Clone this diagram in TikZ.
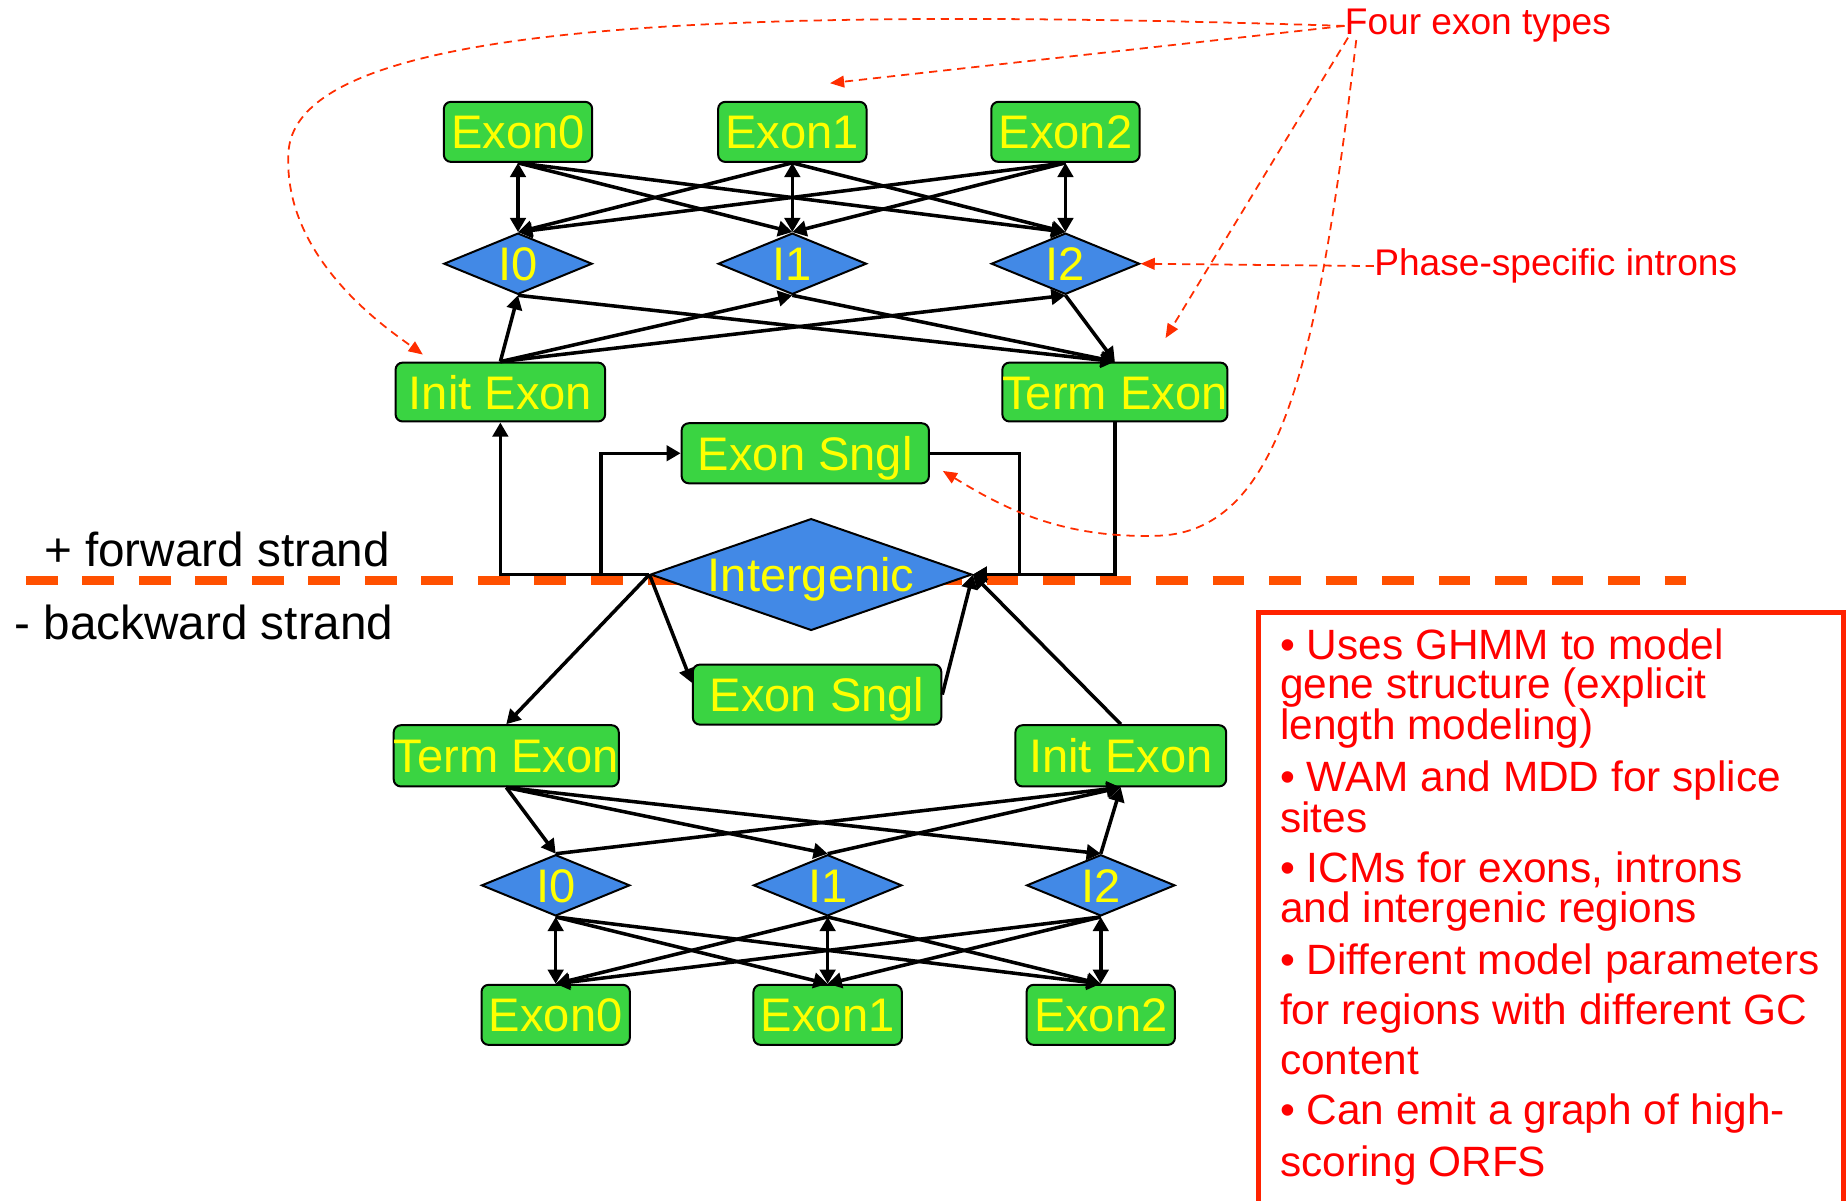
\documentclass[tikz,border=0pt]{standalone}
\usepackage{fontspec}
\setmainfont{Liberation Sans}
\usetikzlibrary{shapes.geometric,arrows.meta,calc}

\definecolor{exongreen}{RGB}{58,212,66}
\definecolor{intronblue}{RGB}{66,137,230}
\definecolor{labelyellow}{RGB}{255,255,0}
\definecolor{strandorange}{RGB}{255,80,0}
\definecolor{noteRed}{RGB}{255,0,0}
\definecolor{pointerRed}{RGB}{255,45,0}
\definecolor{frameRed}{RGB}{255,34,0}

\tikzset{
exonbox/.style={draw=black,line width=1.7pt,fill=exongreen,rounded corners=6pt,text=labelyellow,inner sep=0pt,text height=29pt,text depth=0pt,font=\fontsize{40}{40}\selectfont},
intronbox/.style={diamond,draw=black,line width=1.7pt,fill=intronblue,text=labelyellow,inner sep=0pt,aspect=2.4,text height=29pt,text depth=0pt,minimum width=126pt,minimum height=52pt,font=\fontsize{40}{40}\selectfont},
trans/.style={line width=3pt,-{Triangle[length=12pt,width=13pt]}},
bitrans/.style={line width=3pt,{Triangle[length=12pt,width=13pt]}-{Triangle[length=12pt,width=13pt]}},
pointer/.style={pointerRed,line width=1.5pt,dash pattern=on 7pt off 5pt,-{Triangle[length=12pt,width=10pt]}},
notetext/.style={text=noteRed,inner sep=0pt,font=\fontsize{31.5}{31.5}\selectfont},
bullettext/.style={anchor=north west,align=left,text=noteRed,inner sep=0pt}
}
\tikzset{every picture/.style={line width=0.75pt}}

\begin{document}
\begin{tikzpicture}[x=1pt,y=1pt,yscale=-1,xscale=1]
\useasboundingbox (0,0) rectangle (1568,1020);

%Strand divider
\draw [strandorange,line width=7pt,dash pattern=on 27pt off 21pt] (22,493) -- (1432,493);

% Forward strand states
\node [exonbox,minimum width=126pt,minimum height=51pt] (exU0) at (440,112) {Exon0};
\node [exonbox,minimum width=126pt,minimum height=51pt] (exU1) at (673,112) {Exon1};
\node [exonbox,minimum width=126pt,minimum height=51pt] (exU2) at (905,112) {Exon2};
\node [intronbox] (inU0) at (440,224) {I0};
\node [intronbox] (inU1) at (673,224) {I1};
\node [intronbox] (inU2) at (905,224) {I2};
\node [exonbox,minimum width=178pt,minimum height=50pt] (initU) at (425,333) {Init Exon};
\node [exonbox,minimum width=190pt,minimum height=50pt] (termU) at (947,333) {Term Exon};
\node [exonbox,minimum width=210pt,minimum height=51pt] (snglU) at (684,385) {Exon Sngl};

% Intergenic
\node [intronbox,aspect=2.87,minimum width=273pt,minimum height=95pt] (intergenic) at (689,488) {Intergenic};

% Backward strand states
\node [exonbox,minimum width=211pt,minimum height=51pt] (snglD) at (694,590) {Exon Sngl};
\node [exonbox,minimum width=190pt,minimum height=52pt] (termD) at (430,642) {Term Exon};
\node [exonbox,minimum width=179pt,minimum height=52pt] (initD) at (952,642) {Init Exon};
\node [intronbox] (inD0) at (472,752) {I0};
\node [intronbox] (inD1) at (703,752) {I1};
\node [intronbox] (inD2) at (935,752) {I2};
\node [exonbox,minimum width=126pt,minimum height=51pt] (exD0) at (472,862) {Exon0};
\node [exonbox,minimum width=126pt,minimum height=51pt] (exD1) at (703,862) {Exon1};
\node [exonbox,minimum width=126pt,minimum height=51pt] (exD2) at (935,862) {Exon2};

% Forward strand transitions
\draw [bitrans] (exU0.south) -- (inU0.north);
\draw [bitrans] (exU1.south) -- (inU1.north);
\draw [bitrans] (exU2.south) -- (inU2.north);
\draw [trans] (exU0.south) -- (inU1.north);
\draw [trans] (exU0.south) -- (inU2.north);
\draw [trans] (exU1.south) -- (inU0.north);
\draw [trans] (exU1.south) -- (inU2.north);
\draw [trans] (exU2.south) -- (inU0.north);
\draw [trans] (exU2.south) -- (inU1.north);
\draw [trans] (initU.north) -- (inU0.south);
\draw [trans] (initU.north) -- (inU1.south);
\draw [trans] (initU.north) -- (inU2.south);
\draw [trans] (inU0.south) -- (termU.north);
\draw [trans] (inU1.south) -- (termU.north);
\draw [trans] (inU2.south) -- (termU.north);
\draw [trans] (intergenic.west) -| (initU.south);
\draw [trans] (intergenic.west) -- ++(-41,0) |- (snglU.west);
\draw [trans] (snglU.east) -- ++(76,0) |- (intergenic.east);
\draw [trans] (termU.south) |- (intergenic.east);

% Backward strand transitions
\draw [trans] (intergenic.west) -- (termD.north);
\draw [trans] (intergenic.west) -- ($(snglD.west)+(0,-10)$);
\draw [trans] (snglD.east) -- (intergenic.east);
\draw [trans] (initD.north) -- (intergenic.east);
\draw [trans] (termD.south) -- (inD0.north);
\draw [trans] (termD.south) -- (inD1.north);
\draw [trans] (termD.south) -- (inD2.north);
\draw [trans] (inD0.north) -- (initD.south);
\draw [trans] (inD1.north) -- (initD.south);
\draw [trans] (inD2.north) -- (initD.south);
\draw [bitrans] (inD0.south) -- (exD0.north);
\draw [bitrans] (inD1.south) -- (exD1.north);
\draw [bitrans] (inD2.south) -- (exD2.north);
\draw [trans] (inD0.south) -- (exD1.north);
\draw [trans] (inD0.south) -- (exD2.north);
\draw [trans] (inD1.south) -- (exD0.north);
\draw [trans] (inD1.south) -- (exD2.north);
\draw [trans] (inD2.south) -- (exD0.north);
\draw [trans] (inD2.south) -- (exD1.north);

% Text Node
\node [anchor=west,inner sep=0pt,font=\fontsize{40.5}{40.5}\selectfont] (fwd) at (37,467) {+ forward strand};
% Text Node
\node [anchor=west,inner sep=0pt,font=\fontsize{40.5}{40.5}\selectfont] (bwd) at (12,529) {- backward strand};
% Text Node
\node [notetext,anchor=west] (four) at (1142,22) {Four exon types};
% Text Node
\node [notetext,anchor=west] (phase) at (1167,226) {Phase-specific introns};

% Annotation pointers
\draw [pointer] (four.west) .. controls (600,5) and (250,20) .. (245,130) .. controls (240,220) and (330,280) .. ($(initU.north west)+(24,-6)$);
\draw [pointer] (four.west) -- ($(exU1.north)+(32,-15)$);
\draw [pointer] ($(four.west)+(3,10)$) -- ($(termU.north)+(43,-20)$);
\draw [pointer] ($(four.west)+(10,12)$) .. controls (1120,300) and (1090,450) .. (985,455) .. controls (900,458) and (850,430) .. ($(snglU.east)+(11,15)$);
\draw [pointer] (phase.west) -- (inU2.east);

% Summary box
\draw [frameRed,line width=4pt] (1069,520) rectangle (1566,1030);
\node [bullettext,font=\fontsize{36}{33}\selectfont] (noteA) at (1087,534) {• Uses GHMM to model\\gene structure (explicit\\length modeling)};
\node [bullettext,font=\fontsize{36}{33}\selectfont] (noteB) at (1087,646) {• WAM and MDD for splice\\sites};
\node [bullettext,font=\fontsize{36}{34}\selectfont] (noteC) at (1087,723) {• ICMs for exons, introns\\and intergenic regions};
\node [bullettext,font=\fontsize{36}{42.5}\selectfont] (noteD) at (1087,801) {• Different model parameters\\for regions with different GC\\content};
\node [bullettext,font=\fontsize{36}{44}\selectfont] (noteE) at (1087,929) {• Can emit a graph of high-\\scoring ORFS};

\end{tikzpicture}
\end{document}
